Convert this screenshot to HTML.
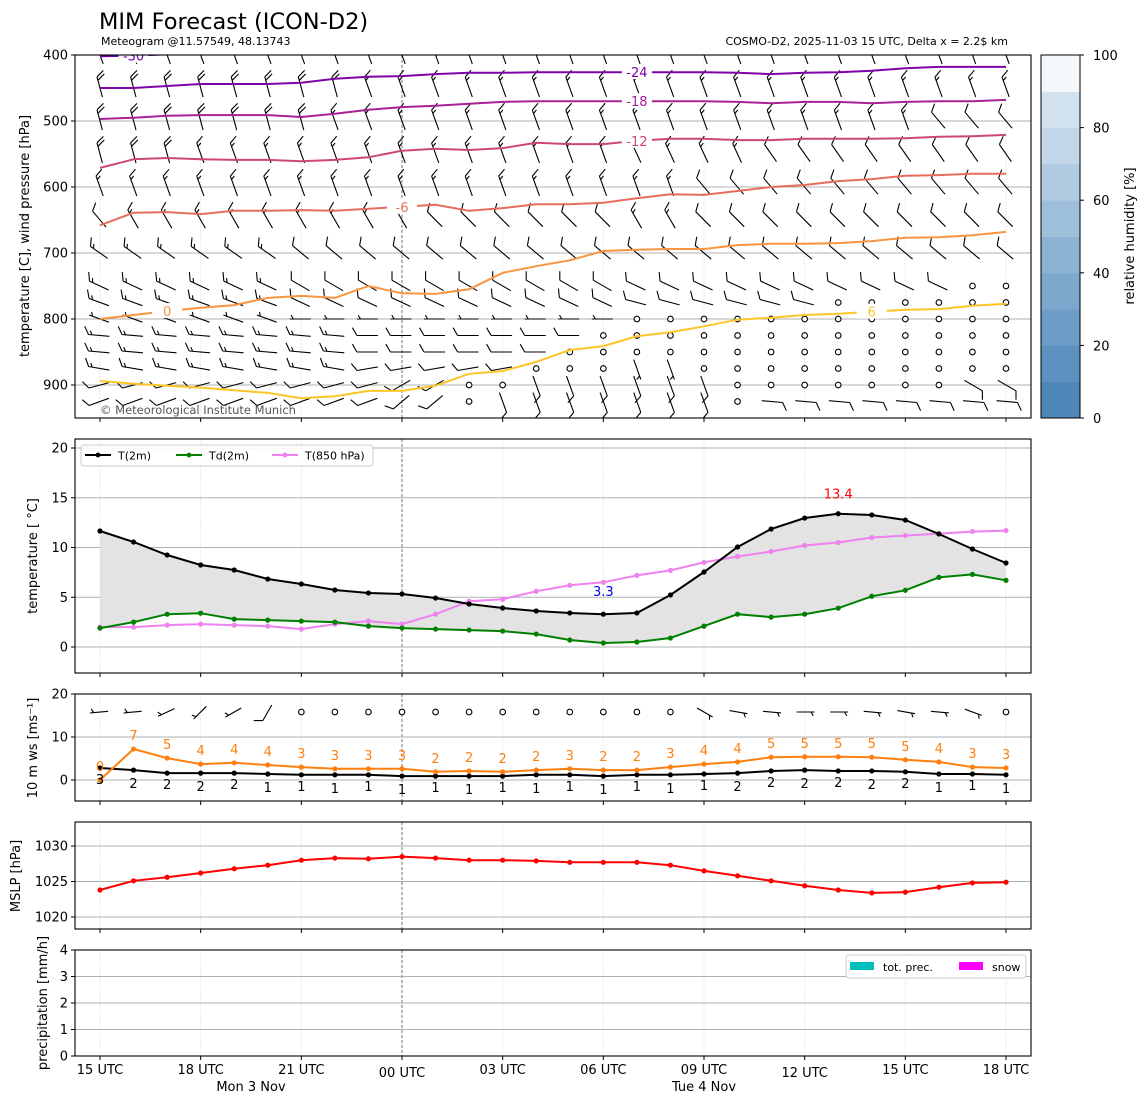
<!DOCTYPE html>
<html><head><meta charset="utf-8"><style>
html,body{margin:0;padding:0;background:#fff;}
svg{display:block;font-family:"DejaVu Sans","Liberation Sans",sans-serif;}
</style></head><body>
<svg id="chart" xmlns="http://www.w3.org/2000/svg" width="1148" height="1105" viewBox="0 0 1148 1105">
<defs><clipPath id="clipTop"><rect x="75" y="55" width="956" height="363"/></clipPath></defs>
<text x="99" y="29" font-size="22.5">MIM Forecast (ICON-D2)</text>
<text x="101" y="45" font-size="11">Meteogram @11.57549, 48.13743</text>
<text x="1008" y="45" font-size="11" text-anchor="end">COSMO-D2, 2025-11-03 15 UTC, Delta x = 2.2$ km</text>
<g id="g"></g>
</svg>
<script>
// ---- data ----
const hours = [0,1,2,3,4,5,6,7,8,9,10,11,12,13,14,15,16,17,18,19,20,21,22,23,24,25,26,27];
const tickHours = [0,3,6,9,12,15,18,21,24,27];
const tickLabels = ["15 UTC","18 UTC","21 UTC","00 UTC","03 UTC","06 UTC","09 UTC","12 UTC","15 UTC","18 UTC"];
const dayLabels = [{h:4.5,t:"Mon 3 Nov"},{h:18,t:"Tue 4 Nov"}];
const t2m = [11.66,10.55,9.25,8.24,7.74,6.83,6.33,5.73,5.43,5.33,4.92,4.32,3.92,3.62,3.42,3.3,3.42,5.23,7.54,10.05,11.86,12.96,13.4,13.27,12.76,11.36,9.85,8.44];
const td2m = [1.9,2.5,3.3,3.4,2.8,2.7,2.6,2.5,2.1,1.9,1.8,1.7,1.6,1.3,0.7,0.4,0.5,0.9,2.1,3.3,3.0,3.3,3.9,5.1,5.7,7.0,7.3,6.7];
const t850 = [2.0,2.0,2.2,2.3,2.2,2.1,1.8,2.3,2.6,2.3,3.3,4.6,4.8,5.6,6.2,6.5,7.2,7.7,8.5,9.1,9.6,10.2,10.5,11.0,11.2,11.4,11.6,11.7];
const ws10 = [2.8,2.3,1.6,1.6,1.6,1.4,1.2,1.2,1.2,0.9,0.9,0.9,0.9,1.2,1.2,0.9,1.2,1.2,1.4,1.6,2.1,2.3,2.1,2.1,1.9,1.4,1.4,1.2];
const gust = [0,7.2,5.1,3.7,4.0,3.5,3.0,2.6,2.6,2.6,1.9,2.1,1.9,2.3,2.6,2.3,2.3,3.0,3.7,4.2,5.3,5.4,5.4,5.3,4.7,4.2,3.0,2.8];
const mslp = [1023.8,1025.1,1025.6,1026.2,1026.8,1027.3,1028.0,1028.3,1028.2,1028.5,1028.3,1028.0,1028.0,1027.9,1027.7,1027.7,1027.7,1027.3,1026.5,1025.8,1025.1,1024.4,1023.8,1023.4,1023.5,1024.2,1024.8,1024.9];
const dir10 = [265,265,245,225,240,210,0,0,0,0,0,0,0,0,0,0,0,0,120,100,95,90,90,95,100,95,110,0];
const spd10 = [5,5,5,5,5,10,0,0,0,0,0,0,0,0,0,0,0,0,5,5,5,5,5,5,5,5,5,0];
const levels = [400,450,500,550,600,650,700,750,775,800,825,850,875,900,925];
const dirL = [
[340,340,340,340,340,340,340,340,340,340,340,340,340,340,340,340,340,340,340,340,340,340,340,340,340,340,340,340],
[345,345,345,345,345,345,345,345,340,340,340,340,340,340,340,340,340,340,340,340,340,340,340,340,340,340,340,340],
[345,345,345,345,345,345,345,340,340,340,340,340,340,340,340,340,340,340,340,340,340,340,340,340,340,320,320,320],
[345,345,345,340,340,340,340,340,340,340,340,340,340,340,340,340,335,335,335,335,325,325,325,325,325,325,325,325],
[340,340,340,340,340,340,340,340,340,340,340,340,340,340,340,340,340,340,320,320,320,320,320,320,320,320,320,320],
[320,330,330,330,330,330,330,330,330,330,315,315,315,315,315,315,330,330,315,315,315,315,315,315,315,315,315,315],
[305,305,305,305,305,305,310,310,310,310,310,310,310,310,310,310,310,310,310,310,310,310,310,310,310,310,310,310],
[295,295,295,295,295,295,300,300,300,300,300,300,300,300,300,300,295,295,295,295,295,295,295,295,295,295,0,0],
[290,290,290,290,290,290,295,295,295,295,295,295,295,295,295,295,285,285,285,285,285,285,0,0,0,0,0,0],
[290,290,290,290,290,290,270,270,270,270,270,270,270,270,270,270,0,0,0,0,0,0,0,0,0,0,0,0],
[275,275,275,275,275,275,275,275,270,270,270,270,270,270,270,0,0,0,0,0,0,0,0,0,0,0,0,0],
[275,275,275,275,275,275,275,275,270,270,270,270,270,270,0,0,0,0,0,0,0,0,0,0,0,0,0,0],
[280,280,280,280,280,280,280,280,260,260,260,260,260,0,0,0,160,160,0,0,0,0,0,0,0,0,0,0],
[255,255,255,255,255,255,255,255,255,240,240,0,0,160,160,160,160,160,160,0,0,0,0,0,0,0,120,120],
[250,250,250,250,250,250,250,250,250,230,230,0,160,160,160,160,160,160,160,0,95,95,95,95,95,95,95,95]];
const spdL = [
[15,15,15,15,15,15,15,15,15,15,15,15,15,15,15,15,15,15,15,15,15,15,15,15,15,15,15,15],
[20,20,20,20,20,20,20,20,15,15,15,15,15,15,15,15,15,15,15,15,15,15,15,15,15,15,15,15],
[20,20,20,20,20,20,20,15,15,15,15,15,15,15,15,15,15,15,15,15,15,15,15,15,15,10,10,10],
[20,20,20,15,15,15,15,15,15,15,15,15,15,15,15,15,15,15,15,15,10,10,10,10,10,10,10,10],
[15,15,15,15,15,15,15,15,15,15,15,15,15,15,15,15,15,15,10,10,10,10,10,10,10,10,10,10],
[10,15,15,15,15,15,15,15,15,15,10,10,10,10,10,10,15,15,10,10,10,10,10,10,10,10,10,10],
[15,15,15,15,15,15,10,10,10,10,10,10,10,10,10,10,10,10,10,10,10,10,10,10,10,10,10,10],
[15,15,15,15,15,15,10,10,10,10,10,10,10,10,10,10,10,10,10,10,10,10,10,10,10,10,0,0],
[15,15,15,15,15,15,10,10,10,10,10,10,10,10,10,10,10,10,10,10,10,10,0,0,0,0,0,0],
[5,5,5,5,5,5,5,5,5,5,5,5,5,5,5,5,0,0,0,0,0,0,0,0,0,0,0,0],
[15,15,15,15,15,15,15,15,10,10,10,10,10,10,10,0,0,0,0,0,0,0,0,0,0,0,0,0],
[15,15,15,15,15,15,15,15,10,10,10,10,10,10,0,0,0,0,0,0,0,0,0,0,0,0,0,0],
[15,15,15,15,15,15,15,15,10,10,10,10,10,0,0,0,5,5,0,0,0,0,0,0,0,0,0,0],
[10,10,10,10,10,10,10,10,10,10,10,0,0,10,10,10,10,10,10,0,0,0,0,0,0,0,10,10],
[10,10,10,10,10,10,10,10,10,10,10,0,10,10,10,10,10,10,10,0,10,10,10,10,10,10,10,10]];
const isoVals = [-30,-24,-18,-12,-6,0,6];
const isoColors = ["#6a00a8","#7e03a8","#a82296","#cc4778","#e66c5c","#f89540","#fdc527"];
const isoLabelHour = [1,16,16,16,9,2,23];
const isoP = [
[402,401,399,398,397,396,395,394,393,392,391,390,389,388,387,386,385,384,383,382,381,380,379,378,377,376,375,374],
[450,450,447,444,444,444,442,436,433,432,429,427,427,426,426,426,426,426,426,427,429,427,426,424,420,418,418,418],
[497,495,492,491,491,491,494,489,483,479,477,474,471,470,470,470,470,470,470,471,473,471,471,473,471,470,470,468],
[571,558,556,558,559,559,561,559,555,545,542,544,541,533,535,535,530,527,527,529,529,527,527,527,526,524,523,521],
[658,639,638,641,636,636,635,636,633,630,627,636,632,626,626,624,617,611,612,606,600,597,591,588,583,582,580,580],
[800,794,788,783,779,768,765,768,750,761,762,755,730,720,711,697,695,694,694,688,686,686,685,682,677,676,673,668],
[894,898,901,904,908,912,920,917,909,909,901,883,879,865,847,841,826,820,811,801,798,794,792,789,786,785,780,777]];
const rhColors = ["#4f86b8","#5d91bf","#6d9cc6","#7da8cd","#8db3d4","#9ebfda","#afcae1","#c1d6e8","#d3e2ef","#e5eef6"];
const rhTop = "#f4f8fb";

// ---- scales ----
const NS="http://www.w3.org/2000/svg";
const g=document.getElementById('g');
const X0=100, X1=1006, PL=75, PR=1031;
const xs=h=>X0+h*(X1-X0)/27;
const yP=p=>55+(p-400)*0.66;
const yT=t=>647-t*9.95;
const yW=w=>780-w*4.3;
const yM=m=>846-(m-1030)*7.1;
const yR=r=>1056-r*26.5;
function el(tag,attrs,parent){const e=document.createElementNS(NS,tag);for(const k in attrs)e.setAttribute(k,attrs[k]);(parent||g).appendChild(e);return e;}
function txt(x,y,s,attrs,parent){const e=el('text',Object.assign({x:x,y:y},attrs),parent);e.textContent=s;return e;}
const panels=[{t:55,b:418},{t:439,b:673},{t:694,b:801},{t:822,b:929},{t:950,b:1056}];

panels.forEach(p=>{
  tickHours.forEach(h=>{const l=el('line',{x1:xs(h),x2:xs(h),y1:p.t,y2:p.b,stroke:'#ddd','stroke-width':0.8,'stroke-dasharray':'1.5,1.5'});
    
    });
  const m=el('line',{x1:xs(9),x2:xs(9),y1:p.t,y2:p.b,stroke:'#555','stroke-width':0.8,'stroke-dasharray':'3,2'});
  
  
});
function hgrid(y,lbl){
  const l=el('line',{x1:PL,x2:PR,y1:y,y2:y,stroke:'#b0b0b0','stroke-width':1});
  
  
  el('line',{x1:PL-4,x2:PL,y1:y,y2:y,stroke:'#000'});
  const t=txt(PL-7,y+4.5,lbl,{'font-size':13,'text-anchor':'end'});
  
  
}
// ---- top panel ----
[400,500,600,700,800,900].forEach(p=>hgrid(yP(p),String(p)));
const topG=el('g',{'clip-path':'url(#clipTop)'});


function barb(x,y,dir,spd,parent,L){
  L=L||21;
  if(spd<2.5){const c=el('circle',{cx:x,cy:y,r:2.8,fill:'#fff',stroke:'#000','stroke-width':1.1},parent);
    
    return;}
  const r=dir*Math.PI/180, ux=Math.sin(r), uy=-Math.cos(r);
  const ax=x-ux*L*0.45, ay=y-uy*L*0.45, ex=x+ux*L*0.55, ey=y+uy*L*0.55;
  const px=-uy, py=ux; const fx=px*0.87+ux*0.5, fy=py*0.87+uy*0.5;
  let d=`M${ax.toFixed(1)},${ay.toFixed(1)}L${ex.toFixed(1)},${ey.toFixed(1)}`;
  let s=Math.round(spd/5)*5, full=Math.floor(s/10), half=(s%10)>=5;
  let pos=0;
  if(full===0&&half) pos=1;
  for(let i=0;i<full;i++){const bx=ex-ux*pos*3.6, by=ey-uy*pos*3.6;d+=`M${bx.toFixed(1)},${by.toFixed(1)}l${(fx*9).toFixed(1)},${(fy*9).toFixed(1)}`;pos++;}
  if(half){const bx=ex-ux*pos*3.6, by=ey-uy*pos*3.6;d+=`M${bx.toFixed(1)},${by.toFixed(1)}l${(fx*4.5).toFixed(1)},${(fy*4.5).toFixed(1)}`;}
  const b=el('path',{d:d,stroke:'#000','stroke-width':1.1,fill:'none'},parent);
  
  
}
levels.forEach((p,i)=>hours.forEach(h=>barb(xs(h),yP(p),dirL[i][h],spdL[i][h],topG)));
isoVals.forEach((v,i)=>{
  const pts=hours.map(h=>xs(h).toFixed(1)+','+yP(isoP[i][h]).toFixed(1)).join(' ');
  const l=el('polyline',{points:pts,fill:'none',stroke:isoColors[i],'stroke-width':2},topG);
  
  
  const h=isoLabelHour[i], lx=xs(h), ly=yP(isoP[i][h]);
  el('rect',{x:lx-15,y:ly-8,width:30,height:15,fill:'#fff'},topG);
  const t=txt(lx,ly+5,String(v),{'font-size':13,'text-anchor':'middle',fill:isoColors[i]},topG);
  
  
});
txt(100,414,'© Meteorological Institute Munich',{'font-size':11.5,fill:'#555'});
// ---- temperature panel ----
[0,5,10,15,20].forEach(t=>hgrid(yT(t),String(t)));
const fillPts=hours.map(h=>xs(h)+','+yT(t2m[h])).concat(hours.slice().reverse().map(h=>xs(h)+','+yT(td2m[h]))).join(' ');
const fp=el('polygon',{points:fillPts,fill:'#e3e3e3',stroke:'none'});


function series(arr,yf,color,name,r){
  const l=el('polyline',{points:hours.map(h=>xs(h).toFixed(1)+','+yf(arr[h]).toFixed(1)).join(' '),fill:'none',stroke:color,'stroke-width':2});
  
  
  hours.forEach(h=>{const c=el('circle',{cx:xs(h),cy:yf(arr[h]),r:r||2.6,fill:color});
    
    });
}
series(t850,yT,'#ee82ee','t850');
series(td2m,yT,'#008000','td2m');
series(t2m,yT,'#000','t2m');
let iMax=0,iMin=0;hours.forEach(h=>{if(t2m[h]>t2m[iMax])iMax=h;if(t2m[h]<t2m[iMin])iMin=h;});
txt(xs(iMax),yT(t2m[iMax])-15,t2m[iMax].toFixed(1),{'font-size':13,fill:'#f00','text-anchor':'middle'});
txt(xs(iMin),yT(t2m[iMin])-18,t2m[iMin].toFixed(1),{'font-size':13,fill:'#00f','text-anchor':'middle'});
const lg=el('g',{});


el('rect',{x:81,y:445,width:292,height:21,rx:3,fill:'#fff',stroke:'#ccc','fill-opacity':0.85},lg);
[[85,'#000','T(2m)'],[176,'#008000','Td(2m)'],[272,'#ee82ee','T(850 hPa)']].forEach(e=>{
  el('line',{x1:e[0],x2:e[0]+26,y1:455,y2:455,stroke:e[1],'stroke-width':2},lg);
  el('circle',{cx:e[0]+13,cy:455,r:2.4,fill:e[1]},lg);
  const t=txt(e[0]+33,459.5,e[2],{'font-size':11},lg);
  
  
});
// ---- wind panel ----
[0,10,20].forEach(w=>hgrid(yW(w),String(w)));
series(ws10,yW,'#000','wind-speed');
series(gust,yW,'#ff7f0e','wind-gust');
hours.forEach(h=>{
  const a=txt(xs(h),yW(gust[h])-9,String(Math.round(gust[h])),{'font-size':13,fill:'#ff7f0e','text-anchor':'middle'});
  
  
  const b=txt(xs(h),yW(ws10[h])+16+(h%2)*2,String(Math.round(ws10[h])),{'font-size':13,fill:'#000','text-anchor':'middle'});
  
  
  barb(xs(h),712,dir10[h],spd10[h],g,18);
});
// ---- MSLP panel ----
[1020,1025,1030].forEach(m=>hgrid(yM(m),String(m)));
series(mslp,yM,'#f00','mslp');
// ---- precip panel ----
[0,1,2,3,4].forEach(r=>hgrid(yR(r),String(r)));
const pl=el('g',{});


el('rect',{x:846,y:955,width:180,height:23,rx:3,fill:'#fff',stroke:'#ccc'},pl);
el('rect',{x:850,y:962,width:24,height:8,fill:'#00bfbf'},pl);
txt(883,971,'tot. prec.',{'font-size':11},pl);
el('rect',{x:959,y:962,width:24,height:8,fill:'#ff00ff'},pl);
txt(992,971,'snow',{'font-size':11},pl);
// ---- frames & x ticks ----
panels.forEach((p,i)=>{
  const r=el('rect',{x:PL,y:p.t,width:PR-PL,height:p.b-p.t,fill:'none',stroke:'#000','stroke-width':1.1});
  
  
  tickHours.forEach(h=>el('line',{x1:xs(h),x2:xs(h),y1:p.b,y2:p.b+4,stroke:'#000'}));
});
tickHours.forEach((h,i)=>{
  const t=txt(xs(h),(i===3||i===7)?1077:1074,tickLabels[i],{'font-size':13,'text-anchor':'middle'});
  
  
});
dayLabels.forEach(d=>{const t=txt(xs(d.h),1091,d.t,{'font-size':13,'text-anchor':'middle'});
  
  });
[['temperature [C], wind pressure [hPa]',29,236],['temperature [ °C]',37,556],['10 m ws [ms\u207B\u00B9]',37,748],['MSLP [hPa]',20,876],['precipitation [mm/h]',47,1003]].forEach(a=>{
  const t=txt(0,0,a[0],{'font-size':13,'text-anchor':'middle',transform:`translate(${a[1]},${a[2]}) rotate(-90)`});
  
  
});
// ---- colorbar ----
const cb=el('g',{});


const cbT=55,cbB=418,cbH=(cbB-cbT)/10;
rhColors.forEach((c,i)=>el('rect',{x:1041,y:cbB-(i+1)*cbH,width:39,height:cbH+0.5,fill:i===9?rhTop:c},cb));
el('rect',{x:1041,y:cbT,width:39,height:cbB-cbT,fill:'none',stroke:'#000','stroke-width':1},cb);
[0,20,40,60,80,100].forEach(v=>{const y=cbB-v/100*(cbB-cbT);
  el('line',{x1:1080,x2:1084,y1:y,y2:y,stroke:'#000'},cb);
  const t=txt(1093,y+5,String(v),{'font-size':13},cb);
  
  });
txt(0,0,'relative humidity [%]',{'font-size':13,'text-anchor':'middle',transform:'translate(1134,236) rotate(-90)'},cb);
</script>
</body></html>
